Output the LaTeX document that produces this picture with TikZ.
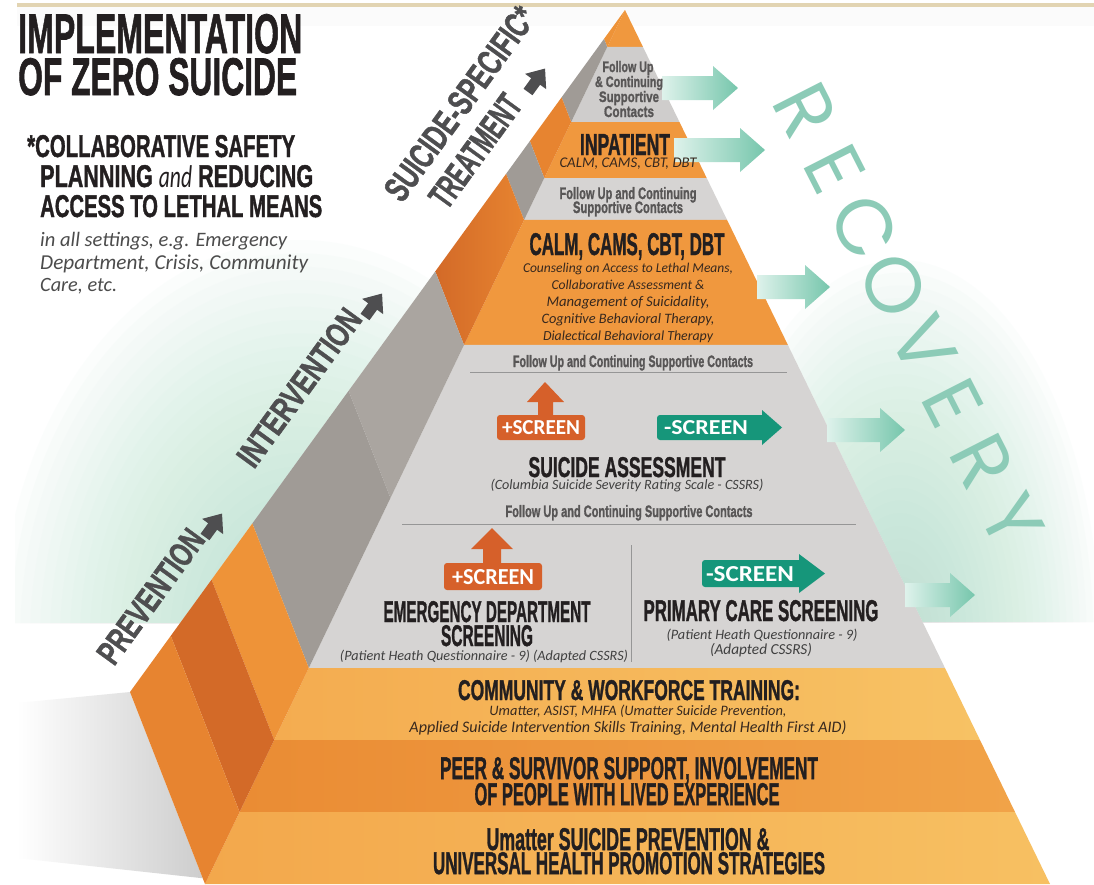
\documentclass[tikz,border=0pt]{standalone}
\usepackage{graphicx}
\usepackage{fontspec}
\setmainfont{Liberation Sans}
\newfontfamily\hf{Liberation Sans}[BoldFeatures={FakeBold=1.5}]
\newfontfamily\cf{Carlito}
\newfontfamily\recfont{Poppins}
\usetikzlibrary{calc}
\newcommand\capl[3]{\resizebox{#1pt}{#2pt}{\hf\bfseries #3}}
\newcommand\itl[2]{\resizebox{#1pt}{!}{\cf\itshape #2}}
\newcommand\boxl[3]{\resizebox{#1pt}{#2pt}{\cf\bfseries #3}}
\newcommand\mkb[2]{%
 \coordinate (F#1) at ($(A)!{(#2-10)/874}!(B)$);
 \coordinate (R#1) at ($(A)!{(#2-10)/874}!(R)$);
 \coordinate (G#1) at ($(F#1)+(L)-(B)$);
 \coordinate (S#1) at (intersection of F#1--G#1 and A--L);}
\newcommand\tarrow[4]{%
 \shade[left color=tealL,right color=tealR] (#2,#1-12) -- (#3,#1-12) -- (#3,#1-22) -- (#4,#1) -- (#3,#1+22) -- (#3,#1+12) -- (#2,#1+12) -- cycle;}
\newcommand\darr[1]{\begin{scope}[shift={#1},rotate=54]
 \fill[sidegray] (0,-5.5)--(13,-5.5)--(13,-13)--(29,0)--(13,13)--(13,5.5)--(0,5.5)--cycle;\end{scope}}
\newcommand\glowat[4]{% cx, cy, rx, ry
 \foreach \k in {1,...,30}{\fill[glowc,opacity=0.042] (#1,#2) ellipse ({#3*\k/30} and {#4*\k/30});}}
\definecolor{orF}{RGB}{240,152,62}
\definecolor{grF}{RGB}{214,212,211}
\definecolor{grF2}{RGB}{207,205,204}
\definecolor{orS}{RGB}{231,132,48}
\definecolor{orSd}{RGB}{211,106,40}
\definecolor{orSl}{RGB}{238,147,56}
\definecolor{grS}{RGB}{170,165,160}
\definecolor{grSd}{RGB}{160,155,150}
\definecolor{comL}{RGB}{244,172,80}
\definecolor{comR}{RGB}{247,194,100}
\definecolor{peL}{RGB}{234,140,52}
\definecolor{peR}{RGB}{241,163,72}
\definecolor{umL}{RGB}{243,168,76}
\definecolor{umR}{RGB}{247,192,98}
\definecolor{txt}{RGB}{35,31,32}
\definecolor{fugray}{RGB}{88,86,86}
\definecolor{ittxt}{RGB}{55,40,30}
\definecolor{sidegray}{RGB}{78,78,80}
\definecolor{plusc}{RGB}{214,96,42}
\definecolor{minusc}{RGB}{22,150,122}
\definecolor{tealL}{RGB}{222,242,235}
\definecolor{tealR}{RGB}{118,198,172}
\definecolor{recc}{RGB}{140,203,183}
\definecolor{glowc}{RGB}{180,226,204}
\definecolor{shadowc}{RGB}{205,205,205}
\definecolor{tanline}{RGB}{226,212,178}
\definecolor{sepc}{RGB}{150,150,150}
\begin{document}
\begin{tikzpicture}[x=1pt,y=-1pt,
  lab/.style={inner sep=0,anchor=base},
  labw/.style={inner sep=0,anchor=base west},
  side/.style={inner sep=0,anchor=base west,rotate=54,text=sidegray},
  rec/.style={inner sep=0,text=recc,font=\recfont\fontsize{78}{78}\selectfont},
  sepline/.style={draw=sepc,line width=0.8pt}]
\useasboundingbox (0,0) rectangle (1094,884);
\fill[white] (0,0) rectangle (1094,884);
% top line
\fill[tanline] (17,3) rectangle (1094,7);
\fill[black!1.5] (17,7) rectangle (1094,26);
% geometry
\coordinate (A) at (625,10);
\coordinate (B) at (205,884);
\coordinate (R) at (1050,884);
\coordinate (L) at (130,692);
\mkb{a}{47}\mkb{b}{122}\mkb{c}{178}\mkb{d}{220}\mkb{e}{345}
\mkb{f}{498}\mkb{g}{668}\mkb{h}{740}\mkb{i}{812}
% glows
\begin{scope}
\clip (15,200) -- ($(A)!{190/682}!(L)$) -- ($(A)!{613/682}!(L)$) -- (15,623) -- cycle;
\glowat{300}{640}{300}{400}
\end{scope}
\begin{scope}
\clip ($(A)!{190/874}!(R)$) -- (1094,200) -- (1094,622) -- ($(A)!{612/874}!(R)$) -- cycle;
\glowat{900}{640}{200}{380}
\end{scope}
% shadow
\shade[left color=white,right color=shadowc] (17,703) -- (L) -- ($(L)!0.97!(B)$) -- (17,858) -- cycle;
% front face
\fill[orF] (A) -- (Ra) -- (Fa) -- cycle;
\fill[grF2] (Fa) -- (Ra) -- (Rb) -- (Fb) -- cycle;
\fill[orF] (Fb) -- (Rb) -- (Rc) -- (Fc) -- cycle;
\fill[grF] (Fc) -- (Rc) -- (Rd) -- (Fd) -- cycle;
\fill[orF] (Fd) -- (Rd) -- (Re) -- (Fe) -- cycle;
\fill[grF] (Fe) -- (Re) -- (Rg) -- (Fg) -- cycle;
\shade[left color=comL,right color=comR] (Fg) -- (Rg) -- (Rh) -- (Fh) -- cycle;
\shade[left color=peL,right color=peR] (Fh) -- (Rh) -- (Ri) -- (Fi) -- cycle;
\shade[left color=umL,right color=umR] (Fi) -- (Ri) -- (R) -- (B) -- cycle;
% left face
\fill[orSl] (A) -- (Fa) -- (Sa) -- cycle;
\fill[grSd] (Sa) -- (Fa) -- (Fb) -- (Sb) -- cycle;
\fill[orS] (Sb) -- (Fb) -- (Fc) -- (Sc) -- cycle;
\fill[grSd] (Sc) -- (Fc) -- (Fd) -- (Sd) -- cycle;
\shade[left color=orSd,right color=orS] (Sd) -- (Fd) -- (Fe) -- (Se) -- cycle;
\fill[grS] (Se) -- (Fe) -- (Ff) -- (Sf) -- cycle;
\fill[grSd] (Sf) -- (Ff) -- (Fg) -- (Sg) -- cycle;
\fill[orSl] (Sg) -- (Fg) -- (Fh) -- (Sh) -- cycle;
\fill[orSd] (Sh) -- (Fh) -- (Fi) -- (Si) -- cycle;
\fill[orS] (Si) -- (Fi) -- (B) -- (L) -- cycle;
% teal arrows
\tarrow{88}{662}{713}{738}
\tarrow{150}{674}{740}{765}
\tarrow{287}{757}{805}{830}
\tarrow{430}{827}{880}{905}
\tarrow{595}{905}{950}{975}
% RECOVERY
\foreach \ch [count=\i from 0] in {R,E,C,O,V,E,R,Y}{
  \node[rec,rotate=-63] (rec\i) at ($(805,110)!{\i/7}!(1012,520)$) {\ch};}
% title
\node[labw,text=txt] (t1) at (18,53) {\capl{284}{39}{IMPLEMENTATION}};
\node[labw,text=txt] (t2) at (18,95) {\capl{279}{37}{OF ZERO SUICIDE}};
\node[labw,text=txt] (c1) at (27,157) {\capl{268}{22}{*COLLABORATIVE SAFETY}};
\node[labw,text=txt] (c2) at (40,187) {\resizebox{273pt}{22pt}{\hf\bfseries PLANNING {\cf\itshape\mdseries and} REDUCING}};
\node[labw,text=txt] (c3) at (40,217) {\capl{282}{22}{ACCESS TO LETHAL MEANS}};
\node[labw,text=black!70] (i1) at (40,246) {\itl{247}{in all settings, e.g. Emergency}};
\node[labw,text=black!70] (i2) at (40,269) {\itl{268}{Department, Crisis, Community}};
\node[labw,text=black!70] (i3) at (40,291) {\itl{77}{Care, etc.}};
% side labels
\node[side] (prev) at (114,667) {\capl{157}{24}{PREVENTION}};
\node[side] (interv) at (254,470) {\capl{186}{24}{INTERVENTION}};
\node[side] (sst1) at (402,204) {\capl{230}{25}{SUICIDE-SPECIFIC*}};
\node[side] (sst2) at (447,211) {\capl{130}{25}{TREATMENT}};
\darr{(205,537)}
\darr{(365,317)}
\darr{(528,92)}
% top tiers
\node[lab,text=fugray] (fu1) at (628,72) {\capl{51}{11}{Follow Up}};
\node[lab,text=fugray] (fu2) at (629,87) {\capl{68}{11}{\& Continuing}};
\node[lab,text=fugray] (fu3) at (629,102) {\capl{60}{11}{Supportive}};
\node[lab,text=fugray] (fu4) at (629,117) {\capl{50}{11}{Contacts}};
\node[lab,text=txt] (inp) at (625,155) {\capl{90}{21}{INPATIENT}};
\node[lab,text=ittxt] (inp2) at (628,167) {\itl{137}{CALM, CAMS, CBT, DBT}};
\node[lab,text=fugray] (fu5) at (628,199) {\capl{137}{12}{Follow Up and Continuing}};
\node[lab,text=fugray] (fu6) at (628,213) {\capl{110}{12}{Supportive Contacts}};
\node[lab,text=txt] (calm) at (627,255) {\capl{195}{22}{CALM, CAMS, CBT, DBT}};
\node[lab,text=ittxt] (cl1) at (628,272) {\itl{210}{Counseling on Access to Lethal Means,}};
\node[lab,text=ittxt] (cl2) at (628,289) {\itl{153}{Collaborative Assessment \&}};
\node[lab,text=ittxt] (cl3) at (628,306) {\itl{163}{Management of Suicidality,}};
\node[lab,text=ittxt] (cl4) at (628,323) {\itl{173}{Cognitive Behavioral Therapy,}};
\node[lab,text=ittxt] (cl5) at (628,340) {\itl{170}{Dialectical Behavioral Therapy}};
\node[lab,text=fugray] (fu7) at (633,367) {\capl{240}{12}{Follow Up and Continuing Supportive Contacts}};
\coordinate (s1a) at (470,372); \coordinate (s1b) at (787,372);
\draw[sepline] (s1a) -- (s1b);
% screen 1
\fill[plusc,rounded corners=3pt] (497,415) rectangle (585,440);
\fill[plusc] (538,416) -- (538,402) -- (527,402) -- (545,382) -- (564,402) -- (553,402) -- (553,416) -- cycle;
\node[inner sep=0,text=white] (ps1) at (541,428) {\boxl{78}{14}{+SCREEN}};
\fill[minusc,rounded corners=3pt] (657,415) rectangle (766,440);
\fill[minusc] (762,410) -- (782,427.5) -- (762,445) -- cycle;
\node[inner sep=0,text=white] (ms1) at (706,428) {\boxl{84}{14}{-SCREEN}};
\node[lab,text=txt] (sa) at (627,477) {\capl{197}{20}{SUICIDE ASSESSMENT}};
\node[lab,text=black!75] (sa2) at (627,489) {\itl{273}{(Columbia Suicide Severity Rating Scale - CSSRS)}};
\node[lab,text=fugray] (fu8) at (629,517) {\capl{247}{12}{Follow Up and Continuing Supportive Contacts}};
\coordinate (s2a) at (402,524); \coordinate (s2b) at (856,524);
\draw[sepline] (s2a) -- (s2b);
\coordinate (vd1) at (631,545); \coordinate (vd2) at (631,662);
\draw[sepline,line width=0.6pt] (vd1) -- (vd2);
% screen 2
\fill[plusc,rounded corners=3pt] (444,563) rectangle (542,590);
\fill[plusc] (483,564) -- (483,549) -- (471,549) -- (492,528) -- (513,549) -- (501,549) -- (501,564) -- cycle;
\node[inner sep=0,text=white] (ps2) at (493,577) {\boxl{82}{15}{+SCREEN}};
\fill[minusc,rounded corners=3pt] (702,560) rectangle (803,587);
\fill[minusc] (799,554) -- (825,573.5) -- (799,593) -- cycle;
\node[inner sep=0,text=white] (ms2) at (750,574) {\boxl{88}{15}{-SCREEN}};
\node[lab,text=txt] (ed1) at (487,622) {\capl{207}{21}{EMERGENCY DEPARTMENT}};
\node[lab,text=txt] (ed2) at (487,646) {\capl{92}{21}{SCREENING}};
\node[lab,text=black!75] (ed3) at (484,660) {\itl{288}{(Patient Heath Questionnaire - 9) (Adapted CSSRS)}};
\node[lab,text=txt] (pc1) at (761,621) {\capl{235}{21}{PRIMARY CARE SCREENING}};
\node[lab,text=black!75] (pc2) at (762,639) {\itl{191}{(Patient Heath Questionnaire - 9)}};
\node[lab,text=black!75] (pc3) at (761,654) {\itl{102}{(Adapted CSSRS)}};
% bottom tiers
\node[lab,text=txt] (cw1) at (629,700) {\capl{342}{20}{COMMUNITY \& WORKFORCE TRAINING:}};
\node[lab,text=ittxt] (cw2) at (638,715) {\itl{297}{Umatter, ASIST, MHFA (Umatter Suicide Prevention,}};
\node[lab,text=ittxt] (cw3) at (628,732) {\itl{437}{Applied Suicide Intervention Skills Training, Mental Health First AID)}};
\node[lab,text=txt] (pe1) at (629,779) {\capl{378}{22}{PEER \& SURVIVOR SUPPORT, INVOLVEMENT}};
\node[lab,text=txt] (pe2) at (627,805) {\capl{305}{22}{OF PEOPLE WITH LIVED EXPERIENCE}};
\node[lab,text=txt] (um1) at (628,850) {\capl{283}{22}{Umatter SUICIDE PREVENTION \&}};
\node[lab,text=txt] (um2) at (629,874) {\capl{392}{22}{UNIVERSAL HEALTH PROMOTION STRATEGIES}};
\end{tikzpicture}
\end{document}
